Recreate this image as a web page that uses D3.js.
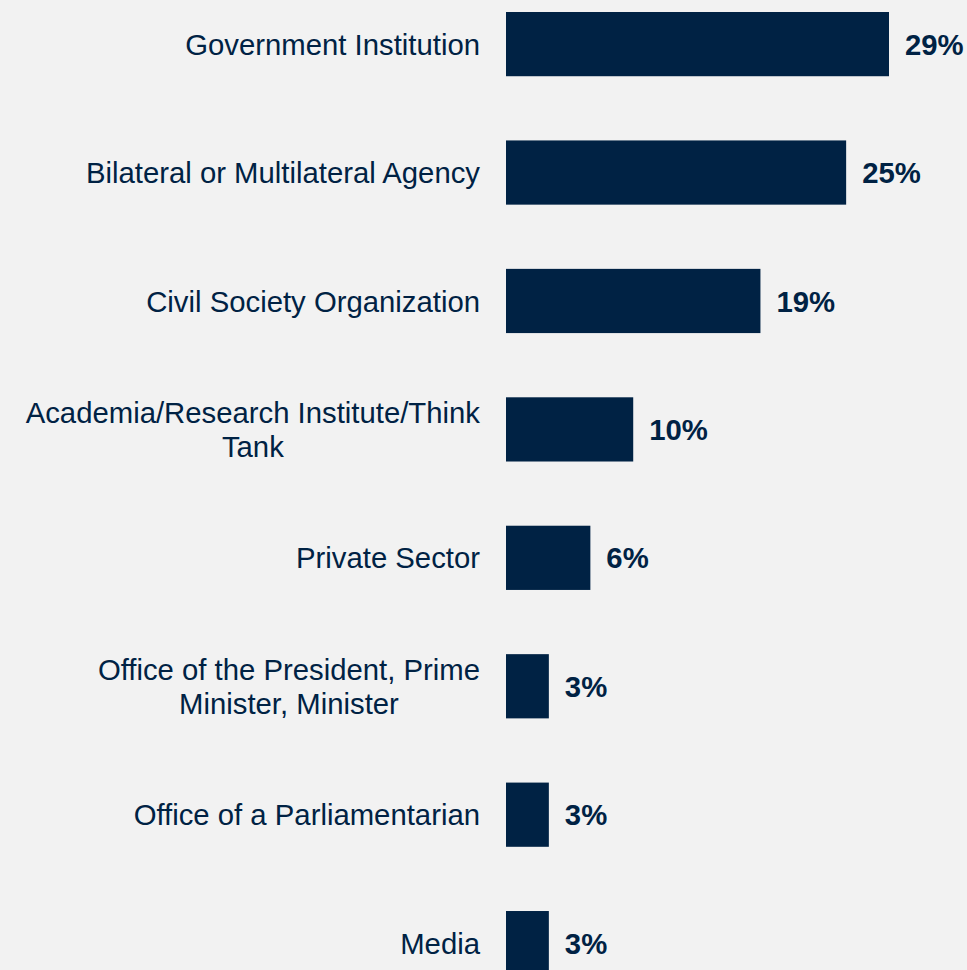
<!DOCTYPE html>
<html>
<head>
<meta charset="utf-8">
<script src="https://cdn.jsdelivr.net/npm/d3@7"></script>
<style>
  html, body { margin: 0; padding: 0; background: #f2f2f2; overflow: hidden; }
  svg { display: block; }
  text { font-family: Arial, "Liberation Sans", Helvetica, sans-serif; }
  .cat-label { font-size: 29.3px; fill: #002244; }
  .val-label { font-size: 29.3px; font-weight: bold; fill: #002244; }
</style>
</head>
<body>
<div id="chart"></div>
<script>
// categories, each as the lines it is drawn on
var categories = [
    ['Government Institution'],
    ['Bilateral or Multilateral Agency'],
    ['Civil Society Organization'],
    ['Academia/Research Institute/Think', 'Tank'],
    ['Private Sector'],
    ['Office of the President, Prime', 'Minister, Minister'],
    ['Office of a Parliamentarian'],
    ['Media']
];
var values = [28.6, 25.4, 19.0, 9.5, 6.3, 3.2, 3.2, 3.2];
var valueLabels = ['29%', '25%', '19%', '10%', '6%', '3%', '3%', '3%'];

var width = 967,
    height = 970,
    barLeft = 506,
    labelRight = 480;

var svg = d3.select('#chart').append('svg')
    .attr('width', width)
    .attr('height', height);

svg.append('rect')
    .attr('width', width)
    .attr('height', height)
    .attr('fill', '#f2f2f2');

var idx = d3.range(categories.length);

var yScale = d3.scaleBand()
    .domain(idx)
    .range([-20.1, -20.1 + 128.43 * categories.length])
    .paddingInner(0.5)
    .paddingOuter(0.25);

var xScale = d3.scaleLinear()
    .domain([0, 28.6])
    .range([barLeft, 889]);

svg.selectAll('rect.bar')
    .data(idx).enter().append('rect')
    .attr('class', 'bar')
    .attr('x', xScale(0))
    .attr('y', function(i) { return yScale(i); })
    .attr('width', function(i) { return xScale(values[i]) - xScale(0); })
    .attr('height', yScale.bandwidth())
    .attr('fill', '#002244');

svg.selectAll('text.val-label')
    .data(idx).enter().append('text')
    .attr('class', 'val-label')
    .attr('x', function(i) { return xScale(values[i]) + 16; })
    .attr('y', function(i) { return yScale(i) + yScale.bandwidth() / 2; })
    .attr('dy', '0.36em')
    .text(function(i) { return valueLabels[i]; });

// category labels: block right-aligned, lines centred within the block
var lineH = 34;
idx.forEach(function(i) {
    var lines = categories[i];
    var cy = yScale(i) + yScale.bandwidth() / 2;
    var t = svg.append('text')
        .attr('class', 'cat-label')
        .attr('text-anchor', 'middle');
    lines.forEach(function(line, k) {
        t.append('tspan')
            .attr('y', cy + (k - (lines.length - 1) / 2) * lineH)
            .attr('dy', '0.36em')
            .text(line);
    });
    var maxW = 0;
    t.selectAll('tspan').each(function() {
        maxW = Math.max(maxW, this.getComputedTextLength());
    });
    t.selectAll('tspan').attr('x', labelRight - maxW / 2);
});
</script>
</body>
</html>
